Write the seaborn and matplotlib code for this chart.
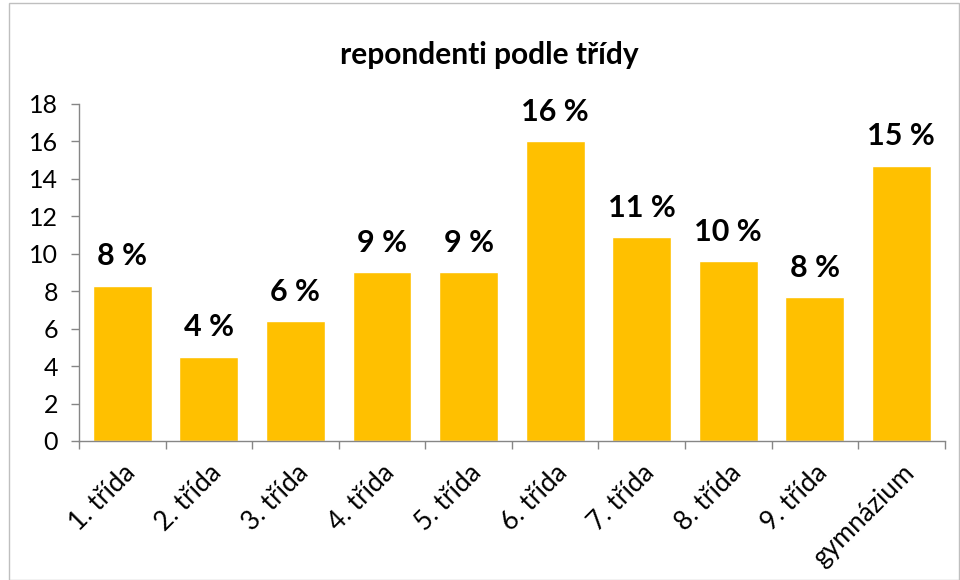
import matplotlib
matplotlib.use("Agg")
import matplotlib.pyplot as plt
import seaborn as sns
import pandas as pd
from matplotlib.patches import Rectangle
from matplotlib.ticker import FixedLocator

# data
categories = ["1. třída", "2. třída", "3. třída", "4. třída", "5. třída",
              "6. třída", "7. třída", "8. třída", "9. třída", "gymnázium"]
values = [8.3, 4.5, 6.4, 9.0, 9.0, 16.0, 10.9, 9.6, 7.7, 14.7]
labels = ["8 %", "4 %", "6 %", "9 %", "9 %", "16 %", "11 %", "10 %", "8 %", "15 %"]
y_ticks = [0, 2, 4, 6, 8, 10, 12, 14, 16, 18]

df = pd.DataFrame({"trida": categories, "pocet": values})

sns.set_style("white")
plt.rcParams["font.family"] = ["Lato", "DejaVu Sans"]
plt.rcParams["text.color"] = "black"

fig = plt.figure(figsize=(9.6, 5.8), dpi=100)
ax = fig.add_axes([0.0823, 0.2397, 0.9017, 0.581])

sns.barplot(data=df, x="trida", y="pocet", color="#FFC000", saturation=1,
            width=0.68, ax=ax)

ax.set_xlim(-0.5, len(categories) - 0.5)
ax.set_ylim(0, 18)
ax.set_yticks(y_ticks)
ax.set_xlabel("")
ax.set_ylabel("")

# data labels
for i, (v, lab) in enumerate(zip(values, labels)):
    ax.annotate(lab, (i, v), xytext=(0, 11), textcoords="offset points",
                ha="center", va="bottom", fontsize=22, fontweight="bold",
                color="black")

# axes styling like the spreadsheet original
for side in ["top", "right"]:
    ax.spines[side].set_visible(False)
for side in ["left", "bottom"]:
    ax.spines[side].set_color("#868686")
    ax.spines[side].set_linewidth(1.0)

ax.tick_params(axis="y", which="major", left=True, length=6, width=1,
               color="#868686", labelsize=18, labelcolor="black", pad=9)
ax.tick_params(axis="x", which="major", bottom=False, length=0,
               labelsize=19, labelcolor="black", pad=14)
ax.xaxis.set_minor_locator(FixedLocator([i - 0.5 for i in range(len(categories) + 1)]))
ax.tick_params(axis="x", which="minor", bottom=True, length=6, width=1,
               color="#868686")

plt.setp(ax.get_xticklabels(), rotation=45, ha="right", rotation_mode="anchor")

fig.text(0.51, 0.905, "repondenti podle třídy", ha="center", va="center",
         fontsize=21.5, fontweight="bold", color="black")

# chart border
fig.patches.append(Rectangle((0.009, 0.0), 0.99, 0.995, transform=fig.transFigure,
                             fill=False, edgecolor="#BFBFBF", linewidth=1))

fig.savefig("out.png", dpi=100)
